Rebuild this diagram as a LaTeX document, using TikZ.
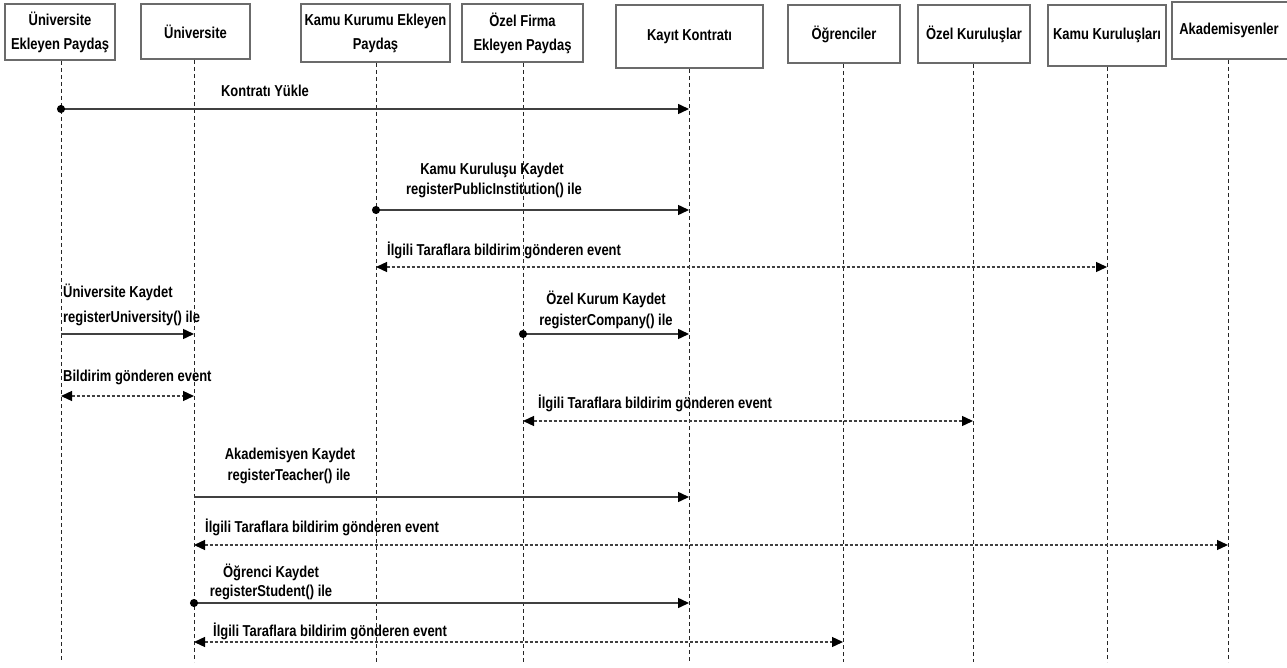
\documentclass[tikz,border=0pt]{standalone}
\usepackage{fontspec}
\setmainfont{Liberation Sans}[FakeStretch=0.82]
\usetikzlibrary{arrows.meta}

\begin{document}
\begin{tikzpicture}[x=1pt,y=-1pt,
  font=\bfseries\fontsize{15.8}{24}\selectfont,
  hdr/.style={draw=black!58, line width=2pt, fill=white, align=center, inner sep=0pt, text=black},
  life/.style={draw=black!85, line width=0.9pt, dash pattern=on 4pt off 3pt},
  head/.tip={Triangle[length=11pt,width=10pt,fill=black,color=black]},
  dot/.tip={Circle[length=8pt,fill=black,color=black]},
  call/.style={draw=black!75, line width=1.5pt, -head},
  callo/.style={draw=black!75, line width=1.5pt, dot-head, shorten <=-4pt},
  evt/.style={draw=black!75, line width=1.3pt, dash pattern=on 3pt off 2pt, head-head},
  lbl/.style={inner sep=0pt, text=black, anchor=west},
  clbl/.style={inner sep=0pt, text=black, align=center},
]
\useasboundingbox (0,0) rectangle (1287,668);

% participants
\node[hdr, minimum width=110pt, minimum height=56pt] (uep) at (60,32) {Üniversite\\Ekleyen Paydaş};
\node[hdr, minimum width=109pt, minimum height=55pt] (uni) at (195.5,31.5) {Üniversite};
\node[hdr, minimum width=149pt, minimum height=58pt] (kep) at (375.5,33) {Kamu Kurumu Ekleyen\\Paydaş};
\node[hdr, minimum width=121pt, minimum height=58pt] (oep) at (522.5,33) {Özel Firma\\Ekleyen Paydaş};
\node[hdr, minimum width=147pt, minimum height=63pt] (kk) at (689.5,36.5) {Kayıt Kontratı};
\node[hdr, minimum width=112pt, minimum height=58pt] (ogr) at (844,34) {Öğrenciler};
\node[hdr, minimum width=112pt, minimum height=58pt] (ozk) at (974,34) {Özel Kuruluşlar};
\node[hdr, minimum width=118pt, minimum height=61pt] (kmk) at (1107,35.5) {Kamu Kuruluşları};
\node[hdr, minimum width=122pt, minimum height=57pt, text width=122pt] (aka) at (1233,30.5) {Akademisyenler\hspace*{8pt}};

% lifeline ends
\coordinate (e1) at (61,662);
\coordinate (e2) at (194,662);
\coordinate (e3) at (376,662);
\coordinate (e4) at (523,662);
\coordinate (e5) at (689,662);
\coordinate (e6) at (843,662);
\coordinate (e7) at (973,662);
\coordinate (e8) at (1107,662);
\coordinate (e9) at (1228,662);

\draw[life] (uep.south -| e1) -- (e1);
\draw[life] (uni.south -| e2) -- (e2);
\draw[life] (kep.south -| e3) -- (e3);
\draw[life] (oep.south -| e4) -- (e4);
\draw[life] (kk.south -| e5) -- (e5);
\draw[life] (ogr.south -| e6) -- (e6);
\draw[life] (ozk.south -| e7) -- (e7);
\draw[life] (kmk.south -| e8) -- (e8);
\draw[life] (aka.south -| e9) -- (e9);

% message end points on the lifelines
\coordinate (m1a) at (61,109);   \coordinate (m1b) at (689,109);
\coordinate (m2a) at (376,210);  \coordinate (m2b) at (689,210);
\coordinate (m3a) at (376,267);  \coordinate (m3b) at (1107,267);
\coordinate (m4a) at (61,334);   \coordinate (m4b) at (194,334);
\coordinate (m5a) at (523,334);  \coordinate (m5b) at (689,334);
\coordinate (m6a) at (61,396);   \coordinate (m6b) at (194,396);
\coordinate (m7a) at (523,421);  \coordinate (m7b) at (973,421);
\coordinate (m8a) at (194,497);  \coordinate (m8b) at (689,497);
\coordinate (m9a) at (194,545);  \coordinate (m9b) at (1228,545);
\coordinate (m10a) at (194,603); \coordinate (m10b) at (689,603);
\coordinate (m11a) at (194,642); \coordinate (m11b) at (843,642);

% messages
\draw[callo] (m1a) -- (m1b);
\node[clbl] at (265,91) {Kontratı Yükle};

\draw[callo] (m2a) -- (m2b);
\node[clbl] at (492,170) {Kamu Kuruluşu Kaydet};
\node[clbl] at (494,190) {registerPublicInstitution() ile};

\draw[evt] (m3a) -- (m3b);
\node[lbl] at (387,250) {İlgili Taraflara bildirim gönderen event};

\draw[call] (m4a) -- (m4b);
\node[lbl] at (63,292) {Üniversite Kaydet};
\node[lbl] at (63,318) {registerUniversity() ile};

\draw[callo] (m5a) -- (m5b);
\node[clbl] at (606,299) {Özel Kurum Kaydet};
\node[clbl] at (606,321) {registerCompany() ile};

\draw[evt] (m6a) -- (m6b);
\node[lbl] at (63,377) {Bildirim gönderen event};

\draw[evt] (m7a) -- (m7b);
\node[lbl] at (538,403) {İlgili Taraflara bildirim gönderen event};

\draw[call] (m8a) -- (m8b);
\node[clbl] at (290,455) {Akademisyen Kaydet};
\node[clbl] at (289,476) {registerTeacher() ile};

\draw[evt] (m9a) -- (m9b);
\node[lbl] at (205,527) {İlgili Taraflara bildirim gönderen event};

\draw[callo] (m10a) -- (m10b);
\node[clbl] at (271,572) {Öğrenci Kaydet};
\node[clbl] at (271,592) {registerStudent() ile};

\draw[evt] (m11a) -- (m11b);
\node[lbl] at (213,631) {İlgili Taraflara bildirim gönderen event};
\end{tikzpicture}
\end{document}
